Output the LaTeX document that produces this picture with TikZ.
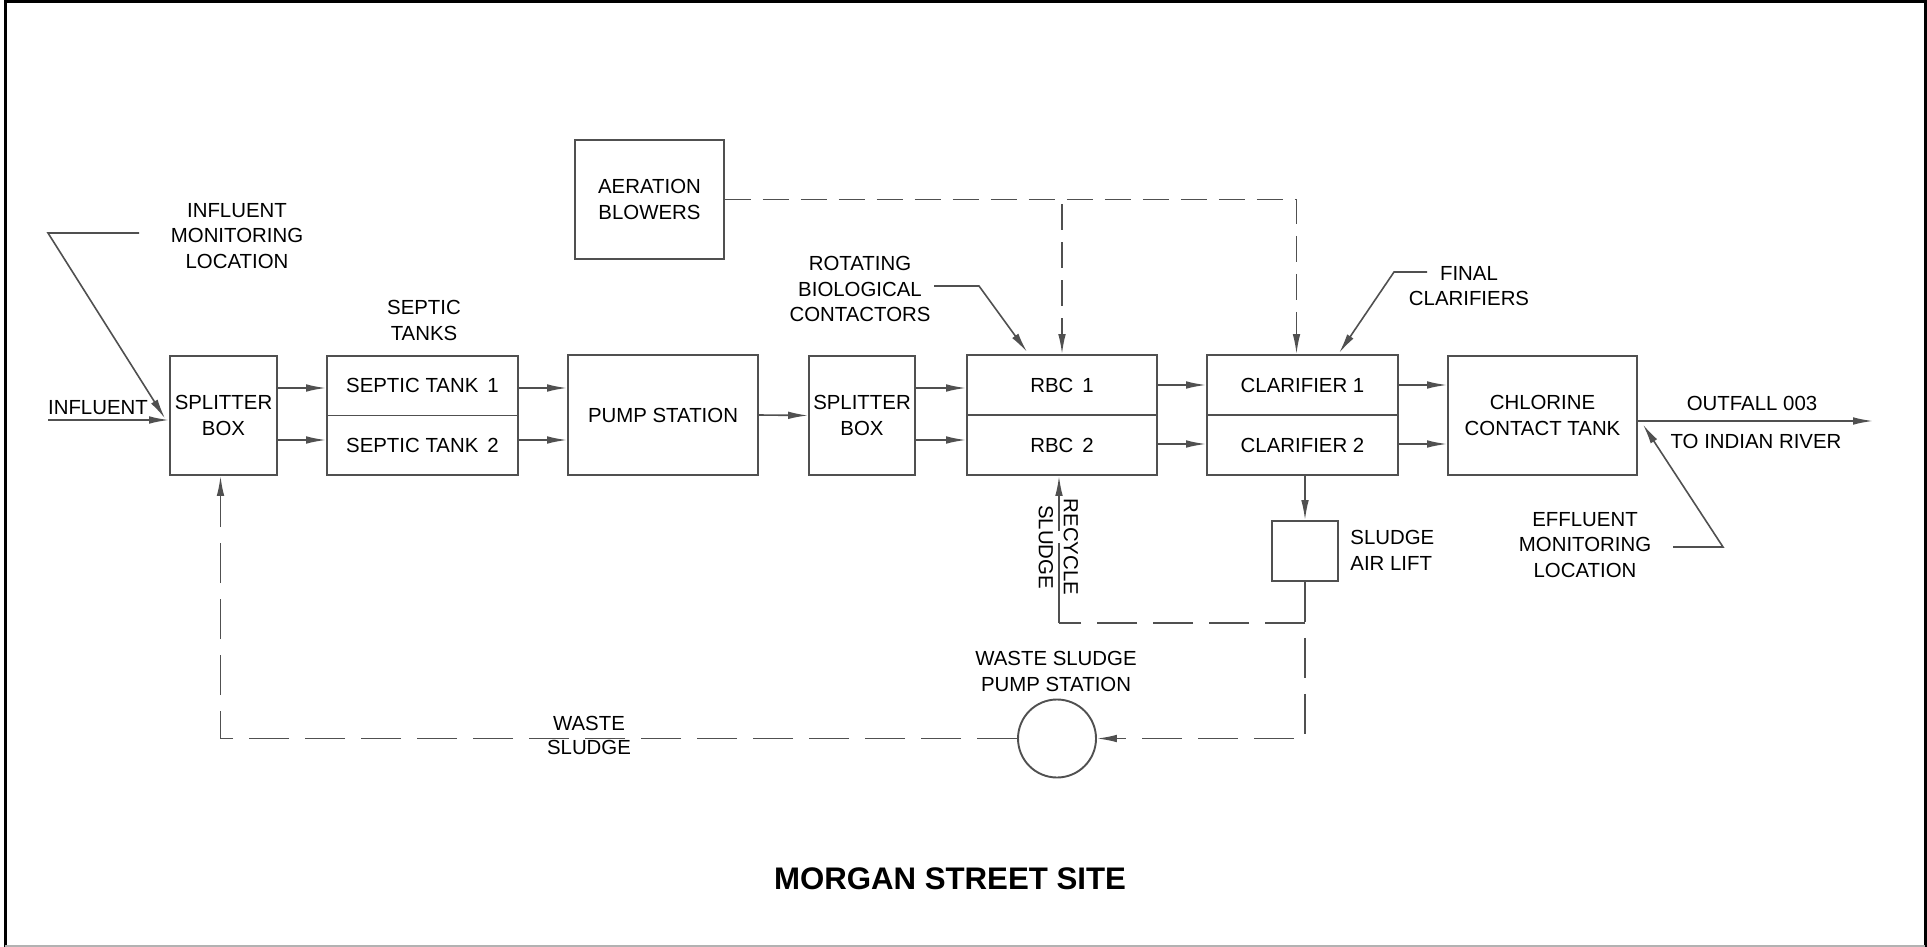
\documentclass[tikz,border=0pt]{standalone}
\usepackage{fontspec}
\setmainfont{Liberation Sans}
\usetikzlibrary{arrows.meta,calc}
\definecolor{lc}{RGB}{80,80,80}
\definecolor{tc}{RGB}{0,0,0}
\begin{document}
\begin{tikzpicture}[x=0.5pt,y=-0.5pt,
  txt/.style={font=\fontsize{10.2}{12.9}\selectfont, text=tc, align=center, inner sep=0pt},
  box/.style={txt, draw=lc, line width=0.95pt, fill=white},
  ptr/.style={draw=lc, line width=0.8pt, -{Latex[length=10pt,width=3.8pt]}},
  lnk/.style={draw=lc, line width=0.8pt},
  dsh/.style={dash pattern=on 13pt off 6pt},
  dshb/.style={dash pattern=on 20pt off 8pt}]
\useasboundingbox (0,0) rectangle (1927,947);
% frame
\draw[line width=1.5pt,black] (5,947) -- (5,1.5) -- (1925,1.5) -- (1925,947);
\draw[line width=0.6pt,black!30] (5,946) -- (1925,946);

% boxes
\node[box, minimum width=53.5pt, minimum height=59.5pt] (spl1) at (223.5,415.5) {SPLITTER\\BOX};
\node[box, minimum width=95.5pt, minimum height=29.75pt] (sep1) at (422.5,385.75) {SEPTIC TANK\ \,1};
\node[box, minimum width=95.5pt, minimum height=29.75pt] (sep2) at (422.5,445.25) {SEPTIC TANK\ \,2};
\node[box, minimum width=95pt, minimum height=60pt] (pump) at (663,415) {PUMP STATION};
\node[box, minimum width=53pt, minimum height=59.5pt] (spl2) at (862,415.5) {SPLITTER\\BOX};
\node[box, minimum width=95pt, minimum height=30pt] (rbc1) at (1062,385) {RBC\ \,1};
\node[box, minimum width=95pt, minimum height=30pt] (rbc2) at (1062,445) {RBC\ \,2};
\node[box, minimum width=95.5pt, minimum height=30pt] (clar1) at (1302.5,385) {CLARIFIER 1};
\node[box, minimum width=95.5pt, minimum height=30pt] (clar2) at (1302.5,445) {CLARIFIER 2};
\node[box, minimum width=94.5pt, minimum height=59.5pt] (chl) at (1542.5,415.5) {CHLORINE\\CONTACT TANK};
\node[box, minimum width=74.5pt, minimum height=59.5pt] (aer) at (649.5,199.5) {AERATION\\BLOWERS};
\node[box, minimum width=33pt, minimum height=30pt] (air) at (1305,551) {};
\node[box, circle, minimum size=39pt] (pmp) at (1057,738.5) {};

% labels
\node[txt] (tinf) at (98,408) {INFLUENT};
\node[txt] (tim) at (237,236) {INFLUENT\\MONITORING\\LOCATION};
\node[txt] (tst) at (424,320.5) {SEPTIC\\TANKS};
\node[txt] (trbc) at (860,289) {ROTATING\\BIOLOGICAL\\CONTACTORS};
\node[txt] (tfc) at (1469,286) {FINAL\\CLARIFIERS};
\node[txt] (tof) at (1752,403) {OUTFALL 003};
\node[txt] (tir) at (1756,441) {TO INDIAN RIVER};
\node[txt, anchor=west, align=left] (tal) at (1350,550.5) {SLUDGE\\AIR LIFT};
\node[txt] (tem) at (1585,545) {EFFLUENT\\MONITORING\\LOCATION};
\node[txt] (tws) at (1056,671.5) {WASTE SLUDGE\\PUMP STATION};
\node[txt] (tw1) at (589,723) {WASTE};
\node[txt] (tw2) at (589,747) {SLUDGE};
\node[txt, rotate=-90] (tr1) at (1071,547) {RECYCLE};
\node[txt, rotate=-90] (tr2) at (1046,547) {SLUDGE};
\node[txt, font=\fontsize{15.6}{18}\selectfont\bfseries, text=black] (title) at (950,879) {MORGAN STREET SITE};

% row coordinates
\coordinate (rA) at (0,388);
\coordinate (rB) at (0,440);
\coordinate (rC) at (0,385);
\coordinate (rD) at (0,444);
\coordinate (rJ) at (0,623);
\coordinate (inl) at (48,420);
\coordinate (im0) at (48,233);
\coordinate (im1) at (139,233);
\coordinate (rb0) at (934,286);
\coordinate (rb1) at (979,286);
\coordinate (fc0) at (1427,272);
\coordinate (fc1) at (1394,272);
\coordinate (em0) at (1673,547);
\coordinate (em1) at (1723,547);
\coordinate (outf) at (1873,421);
\coordinate (rtop) at ($(rbc2.south)+(-3,0)$);

% main flow
\draw[ptr] (inl) -- (inl -| spl1.west);
\draw[ptr] (spl1.east |- rA) -- (sep1.west |- rA);
\draw[ptr] (spl1.east |- rB) -- (sep2.west |- rB);
\draw[ptr] (sep1.east |- rA) -- (pump.west |- rA);
\draw[ptr] (sep2.east |- rB) -- (pump.west |- rB);
\draw[ptr] (pump.east) -- (spl2.west);
\draw[ptr] (spl2.east |- rA) -- (rbc1.west |- rA);
\draw[ptr] (spl2.east |- rB) -- (rbc2.west |- rB);
\draw[ptr] (rbc1.east |- rC) -- (clar1.west |- rC);
\draw[ptr] (rbc2.east |- rD) -- (clar2.west |- rD);
\draw[ptr] (clar1.east |- rC) -- (chl.west |- rC);
\draw[ptr] (clar2.east |- rD) -- (chl.west |- rD);
\draw[ptr] (outf -| chl.east) -- (outf);

% leaders
\draw[ptr] (im1) -- (im0) -- ($(spl1.west)+(-4,3)$);
\draw[ptr] (rb0) -- (rb1) -- ($(rbc1.north west)+(61,-2)$);
\draw[ptr] (fc0) -- (fc1) -- ($(clar1.north west)+(133,-1)$);
\draw[ptr] (em0) -- (em1) -- ($(chl.east)+(5,9)$);

% aeration
\draw[ptr, dsh] (aer.east) -| (rbc1.north);
\draw[ptr, dsh] (aer.east) -| ($(clar1.north)+(-6,0)$);

% sludge
\draw[ptr] (air.north |- clar2.south) -- (air.north);
\draw[ptr, dshb] (air.south) |- (pmp.east);
\draw[lnk, dshb] (air.south |- rJ) -- (rtop |- rJ);
\draw[ptr, dash pattern=on 40pt off 6pt] (rtop |- rJ) -- (rtop);
\draw[ptr, dshb] (pmp.west) -| ($(spl1.south)+(-3,0)$);
\end{tikzpicture}
\end{document}
